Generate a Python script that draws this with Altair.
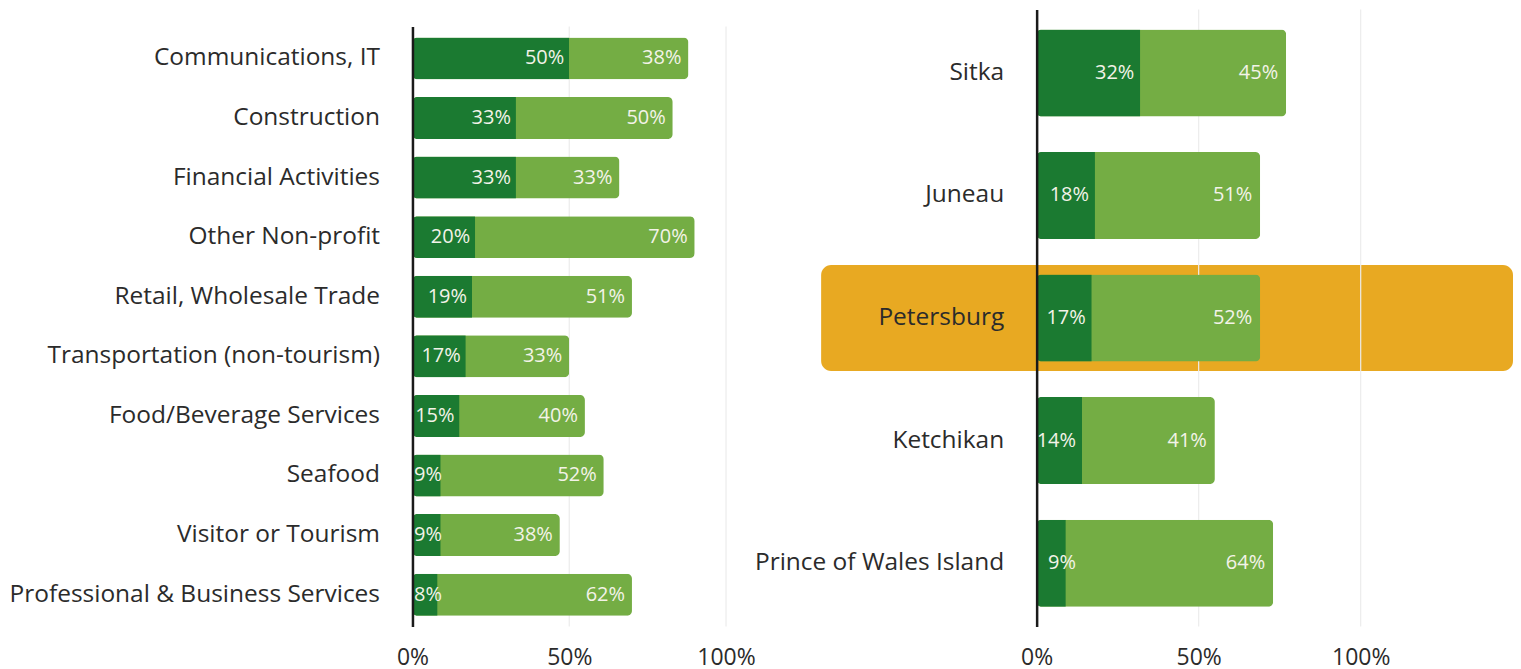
import altair as alt
import pandas as pd

# ---- data ----
sectors = ["Communications, IT", "Construction", "Financial Activities", "Other Non-profit",
           "Retail, Wholesale Trade", "Transportation (non-tourism)", "Food/Beverage Services",
           "Seafood", "Visitor or Tourism", "Professional & Business Services"]
sector_dark = [50, 33, 33, 20, 19, 17, 15, 9, 9, 8]
sector_light = [38, 50, 33, 70, 51, 33, 40, 52, 38, 62]

towns = ["Sitka", "Juneau", "Petersburg", "Ketchikan", "Prince of Wales Island"]
town_dark = [32, 18, 17, 14, 9]
town_light = [45, 51, 52, 41, 64]

highlight = "Petersburg"
tick_values = [0, 50, 100]
grid_values = [50, 100]

DARK = "#1b7a31"
LIGHT = "#74ad44"
ORANGE = "#e8a922"
FONT = "Open Sans"
TXT = "#2b2b2b"


def panel(cats, dark, light, width, height, xmax, min_lab, dx_dark, dx_light,
          pad_inner, pad_outer, band=None, band_left=None):
    df = pd.DataFrame({"cat": cats, "dark": dark, "light": light})
    base = alt.Chart(df).transform_calculate(
        total="datum.dark + datum.light",
        dpos="max(datum.dark, %s)" % min_lab,
        dlab="datum.dark + '%'",
        llab="datum.light + '%'",
    )
    xs = alt.Scale(domain=[0, xmax], nice=False, zero=True)
    ys = alt.Scale(paddingInner=pad_inner, paddingOuter=pad_outer)
    yenc = alt.Y("cat:N", sort=cats, scale=ys,
                 axis=alt.Axis(title=None, ticks=False, domain=True, domainColor="#1a1a1a",
                               domainWidth=2.5, labelFont=FONT, labelFontSize=24.5,
                               labelColor=TXT, labelPadding=33, labelLimit=600, zindex=1))
    xaxis = alt.Axis(title=None, values=tick_values, labelExpr="datum.value + '%'",
                     grid=False, domain=False, ticks=False, labelFont=FONT, labelFlush=False,
                     labelFontSize=23, labelColor=TXT, labelPadding=20)

    layers = []
    if band is not None:
        bdf = pd.DataFrame({"cat": [band], "lo": [band_left], "hi": [xmax]})
        layers.append(
            alt.Chart(bdf).mark_bar(color=ORANGE, height=106, cornerRadius=10, clip=False).encode(
                x=alt.X("lo:Q", scale=xs, axis=xaxis), x2="hi:Q", y=yenc)
        )
    gdf = pd.DataFrame({"g": grid_values})
    layers.append(alt.Chart(gdf).mark_rule(color="#ececec", strokeWidth=1.2).encode(
        x=alt.X("g:Q", scale=xs, axis=xaxis)))
    layers.append(base.mark_bar(color=LIGHT, cornerRadius=5).encode(
        x=alt.X("total:Q", scale=xs, axis=xaxis), y=yenc))
    layers.append(base.mark_bar(color=DARK, cornerRadiusTopLeft=5, cornerRadiusBottomLeft=5).encode(
        x=alt.X("dark:Q", scale=xs, axis=xaxis), y=yenc))
    layers.append(base.mark_text(align="right", baseline="middle", dx=dx_dark, font=FONT,
                                 fontSize=20, color="#f3f3e8").encode(
        x=alt.X("dpos:Q", scale=xs, axis=xaxis), y=yenc, text="dlab:N"))
    layers.append(base.mark_text(align="right", baseline="middle", dx=dx_light, font=FONT,
                                 fontSize=20, color="#f3f3e8").encode(
        x=alt.X("total:Q", scale=xs, axis=xaxis), y=yenc, text="llab:N"))
    return alt.layer(*layers).properties(width=width, height=height)


left = panel(sectors, sector_dark, sector_light, 314, 601, 100, 11, -5, -7, 0.296, 0.184)
right = panel(towns, town_dark, town_light, 477, 618, 147, 14, -6, -8, 0.29, 0.163,
              band=highlight, band_left=-66.5)

# small invisible spacer so the left panel starts a little lower than the right one
spacer = alt.Chart(pd.DataFrame({"s": [0]})).mark_point(opacity=0, size=0).encode(
    x=alt.value(1), y=alt.value(1)).properties(width=314, height=1)

left_col = alt.vconcat(spacer, left, spacing=15)

chart = alt.hconcat(left_col, right, spacing=-2).properties(
    padding=0, background="white"
).configure_view(stroke=None)

chart.save("out.html", embed_options={"renderer": "svg", "actions": False})
